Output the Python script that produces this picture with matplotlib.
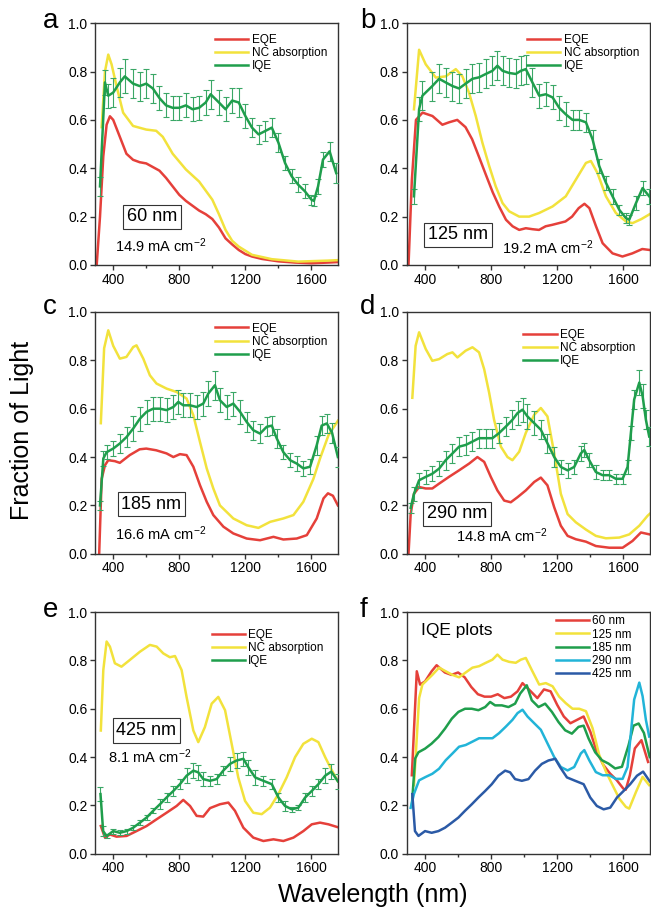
"""Six-panel EQE / NC absorption / IQE figure for NC films of different thickness."""
import matplotlib
matplotlib.use("Agg")
import matplotlib.pyplot as plt
from matplotlib.ticker import MultipleLocator, FormatStrFormatter

plt.rcParams["font.family"] = ["Liberation Sans", "DejaVu Sans"]
plt.rcParams["mathtext.default"] = "regular"

RED, YELLOW, GREEN = "#e5403a", "#f2e23c", "#1f9e4c"
CYAN, BLUE = "#22b4d8", "#2b5aa6"
ERR_GREEN = "#3aa766"

# ---- panel a: 60 nm ----
A_EQE_WL = [300, 320, 340, 360, 380, 400, 440, 480, 520, 560, 600, 640, 680, 720, 760, 800,
            840, 880, 920, 960, 1000, 1040, 1080, 1120, 1160, 1200, 1240, 1300, 1400, 1500,
            1600, 1700, 1760]
A_EQE = [0.0, 0.2, 0.45, 0.58, 0.615, 0.6, 0.53, 0.46, 0.435, 0.425, 0.42, 0.405, 0.39, 0.36,
         0.325, 0.29, 0.265, 0.245, 0.225, 0.21, 0.19, 0.155, 0.11, 0.085, 0.062, 0.045, 0.035,
         0.025, 0.015, 0.01, 0.007, 0.01, 0.012]
A_NC_WL = [330, 350, 370, 390, 420, 460, 520, 600, 660, 700, 760, 840, 920, 1000, 1040, 1080,
           1120, 1160, 1240, 1360, 1520, 1700, 1760]
A_NC = [0.57, 0.8, 0.87, 0.83, 0.74, 0.63, 0.575, 0.56, 0.555, 0.53, 0.46, 0.395, 0.345, 0.27,
        0.21, 0.145, 0.1, 0.076, 0.042, 0.024, 0.014, 0.018, 0.02]
A_IQE_WL = [320, 350, 370, 400, 440, 470, 520, 560, 600, 640, 680, 720, 760, 800, 840, 880,
            920, 960, 990, 1040, 1080, 1120, 1160, 1200, 1240, 1280, 1320, 1360, 1400, 1440,
            1480, 1520, 1560, 1600, 1615, 1640, 1670, 1710, 1750]
A_IQE = [0.325, 0.755, 0.70, 0.713, 0.755, 0.78, 0.75, 0.74, 0.75, 0.73, 0.69, 0.66, 0.65,
         0.65, 0.66, 0.644, 0.65, 0.672, 0.706, 0.672, 0.644, 0.68, 0.672, 0.616, 0.568, 0.54,
         0.554, 0.568, 0.506, 0.422, 0.367, 0.332, 0.305, 0.27, 0.265, 0.325, 0.436, 0.47, 0.38]
A_ERR = [0.04, 0.05, 0.05, 0.06, 0.06, 0.07, 0.06, 0.06, 0.06, 0.06, 0.05, 0.05, 0.05, 0.05,
         0.05, 0.05, 0.05, 0.05, 0.06, 0.05, 0.05, 0.05, 0.06, 0.05, 0.04, 0.04, 0.04, 0.04,
         0.04, 0.03, 0.03, 0.03, 0.03, 0.02, 0.02, 0.03, 0.03, 0.04, 0.04]

# ---- panel b: 125 nm ----
B_EQE_WL = [300, 320, 345, 385, 445, 505, 545, 595, 645, 685, 725, 770, 810, 850, 890, 930,
            970, 1010, 1050, 1090, 1130, 1170, 1210, 1250, 1290, 1330, 1365, 1395, 1435, 1475,
            1535, 1595, 1655, 1715, 1760]
B_EQE = [0.0, 0.35, 0.6, 0.63, 0.616, 0.58, 0.59, 0.6, 0.57, 0.52, 0.45, 0.37, 0.30, 0.24,
         0.187, 0.16, 0.145, 0.152, 0.148, 0.145, 0.16, 0.166, 0.173, 0.18, 0.2, 0.235, 0.253,
         0.235, 0.16, 0.09, 0.048, 0.035, 0.048, 0.066, 0.062]
B_NC_WL = [333, 364, 404, 465, 525, 586, 626, 666, 707, 747, 788, 828, 869, 909, 970, 1030,
           1091, 1172, 1252, 1313, 1374, 1404, 1444, 1495, 1555, 1616, 1656, 1710, 1760]
B_NC = [0.644, 0.89, 0.83, 0.775, 0.78, 0.81, 0.78, 0.713, 0.616, 0.506, 0.41, 0.325, 0.256,
        0.222, 0.2, 0.2, 0.215, 0.242, 0.284, 0.353, 0.422, 0.43, 0.38, 0.284, 0.215, 0.18,
        0.173, 0.19, 0.21]
B_IQE_WL = [333, 364, 384, 444, 485, 525, 566, 606, 646, 687, 727, 768, 808, 838, 869, 909,
            949, 980, 1010, 1050, 1091, 1131, 1172, 1212, 1252, 1293, 1333, 1374, 1414, 1454,
            1495, 1535, 1576, 1616, 1636, 1677, 1717, 1757]
B_IQE = [0.284, 0.644, 0.70, 0.74, 0.77, 0.755, 0.74, 0.73, 0.75, 0.77, 0.776, 0.79, 0.803,
         0.824, 0.803, 0.794, 0.79, 0.803, 0.81, 0.755, 0.70, 0.706, 0.693, 0.65, 0.623, 0.6,
         0.6, 0.59, 0.52, 0.41, 0.34, 0.284, 0.228, 0.194, 0.187, 0.256, 0.318, 0.284]
B_ERR = [0.03, 0.05, 0.06, 0.06, 0.06, 0.06, 0.06, 0.06, 0.06, 0.06, 0.06, 0.06, 0.06, 0.06,
         0.06, 0.06, 0.06, 0.06, 0.06, 0.06, 0.05, 0.05, 0.05, 0.05, 0.05, 0.04, 0.04, 0.04,
         0.04, 0.03, 0.03, 0.03, 0.02, 0.02, 0.02, 0.03, 0.03, 0.03]

# ---- panel c: 185 nm ----
C_EQE_WL = [315, 330, 350, 370, 410, 440, 500, 560, 600, 660, 723, 764, 804, 844, 885, 925,
            966, 1006, 1067, 1127, 1208, 1289, 1370, 1430, 1511, 1572, 1632, 1673, 1700, 1730,
            1760]
C_EQE = [0.0, 0.31, 0.366, 0.387, 0.383, 0.376, 0.408, 0.432, 0.435, 0.428, 0.415, 0.40,
         0.412, 0.408, 0.36, 0.284, 0.215, 0.16, 0.112, 0.084, 0.063, 0.056, 0.07, 0.059,
         0.063, 0.077, 0.146, 0.229, 0.25, 0.24, 0.2]
C_NC_WL = [325, 345, 370, 400, 440, 480, 521, 541, 582, 622, 662, 723, 784, 844, 885, 925,
           966, 1006, 1046, 1127, 1208, 1279, 1350, 1430, 1491, 1551, 1612, 1652, 1703, 1760]
C_NC = [0.54, 0.85, 0.924, 0.86, 0.807, 0.814, 0.855, 0.862, 0.807, 0.738, 0.704, 0.683,
        0.669, 0.642, 0.573, 0.463, 0.353, 0.27, 0.20, 0.146, 0.118, 0.107, 0.132, 0.146,
        0.16, 0.215, 0.31, 0.394, 0.49, 0.55]
C_IQE_WL = [320, 340, 360, 400, 440, 481, 521, 562, 602, 642, 683, 723, 764, 794, 824, 865,
            905, 945, 976, 1016, 1046, 1087, 1127, 1168, 1208, 1248, 1289, 1329, 1360, 1390,
            1430, 1471, 1511, 1551, 1592, 1632, 1662, 1693, 1725, 1760]
C_IQE = [0.2, 0.394, 0.42, 0.435, 0.456, 0.483, 0.518, 0.559, 0.587, 0.60, 0.60, 0.594,
         0.607, 0.628, 0.614, 0.614, 0.607, 0.621, 0.663, 0.697, 0.635, 0.607, 0.621, 0.587,
         0.545, 0.511, 0.497, 0.525, 0.53, 0.477, 0.42, 0.387, 0.373, 0.353, 0.36, 0.449,
         0.53, 0.539, 0.5, 0.4]
C_ERR = [0.02, 0.03, 0.03, 0.03, 0.04, 0.04, 0.05, 0.05, 0.05, 0.05, 0.05, 0.05, 0.05, 0.05,
         0.05, 0.05, 0.05, 0.05, 0.05, 0.06, 0.05, 0.05, 0.05, 0.05, 0.04, 0.04, 0.04, 0.04,
         0.04, 0.04, 0.03, 0.03, 0.03, 0.03, 0.03, 0.04, 0.04, 0.04, 0.04, 0.04]

# ---- panel d: 290 nm ----
D_EQE_WL = [300, 313, 333, 364, 404, 444, 485, 545, 606, 667, 717, 758, 798, 838, 879, 919,
            960, 1010, 1061, 1101, 1141, 1182, 1222, 1263, 1313, 1374, 1434, 1515, 1596, 1656,
            1707, 1760]
D_EQE = [0.0, 0.164, 0.248, 0.276, 0.27, 0.27, 0.29, 0.318, 0.345, 0.373, 0.40, 0.38, 0.318,
         0.262, 0.22, 0.213, 0.234, 0.262, 0.297, 0.315, 0.283, 0.192, 0.116, 0.074, 0.06,
         0.05, 0.032, 0.025, 0.025, 0.053, 0.088, 0.08]
D_NC_WL = [323, 343, 364, 404, 444, 485, 535, 566, 596, 646, 687, 727, 758, 788, 818, 859,
           899, 929, 970, 1010, 1061, 1101, 1141, 1182, 1222, 1263, 1313, 1374, 1434, 1495,
           1576, 1636, 1697, 1747, 1760]
D_NC = [0.645, 0.86, 0.916, 0.847, 0.798, 0.805, 0.826, 0.833, 0.812, 0.84, 0.854, 0.833,
        0.763, 0.666, 0.554, 0.443, 0.40, 0.387, 0.422, 0.50, 0.575, 0.603, 0.568, 0.415,
        0.248, 0.164, 0.13, 0.10, 0.074, 0.064, 0.067, 0.08, 0.116, 0.157, 0.165]
D_IQE_WL = [313, 333, 364, 404, 444, 485, 525, 566, 606, 646, 687, 727, 768, 808, 848, 889,
            929, 960, 990, 1020, 1061, 1101, 1141, 1182, 1222, 1263, 1303, 1343, 1364, 1394,
            1434, 1475, 1515, 1555, 1596, 1626, 1646, 1666, 1697, 1717, 1737, 1757]
D_IQE = [0.19, 0.248, 0.304, 0.318, 0.331, 0.352, 0.387, 0.415, 0.443, 0.45, 0.464, 0.478,
         0.478, 0.478, 0.499, 0.526, 0.554, 0.582, 0.596, 0.568, 0.54, 0.513, 0.457, 0.40,
         0.359, 0.345, 0.359, 0.415, 0.429, 0.387, 0.338, 0.325, 0.325, 0.31, 0.31, 0.359,
         0.499, 0.638, 0.708, 0.652, 0.554, 0.485]
D_ERR = [0.02, 0.03, 0.03, 0.03, 0.03, 0.03, 0.04, 0.04, 0.04, 0.04, 0.04, 0.04, 0.04, 0.04,
         0.04, 0.04, 0.04, 0.05, 0.05, 0.05, 0.05, 0.04, 0.04, 0.04, 0.03, 0.03, 0.03, 0.03,
         0.03, 0.03, 0.03, 0.02, 0.02, 0.02, 0.02, 0.03, 0.03, 0.04, 0.05, 0.05, 0.04, 0.04]

# ---- panel e: 425 nm ----
E_EQE_WL = [325, 350, 380, 420, 481, 541, 602, 663, 723, 784, 824, 865, 905, 945, 986, 1046,
            1097, 1137, 1188, 1248, 1309, 1370, 1430, 1491, 1551, 1602, 1652, 1703, 1760]
E_EQE = [0.115, 0.067, 0.08, 0.071, 0.074, 0.094, 0.115, 0.143, 0.17, 0.198, 0.223, 0.198,
         0.157, 0.154, 0.189, 0.205, 0.212, 0.178, 0.108, 0.067, 0.053, 0.06, 0.053, 0.067,
         0.094, 0.122, 0.129, 0.122, 0.11]
E_NC_WL = [325, 340, 360, 380, 410, 450, 501, 562, 622, 663, 703, 743, 774, 814, 844, 885,
           915, 955, 996, 1036, 1077, 1117, 1157, 1198, 1248, 1299, 1349, 1400, 1450, 1501,
           1551, 1602, 1642, 1683, 1720, 1760]
E_NC = [0.51, 0.76, 0.878, 0.857, 0.788, 0.774, 0.802, 0.836, 0.864, 0.857, 0.829, 0.813,
        0.818, 0.76, 0.649, 0.51, 0.462, 0.524, 0.621, 0.649, 0.594, 0.455, 0.316, 0.219,
        0.17, 0.164, 0.191, 0.247, 0.316, 0.40, 0.455, 0.476, 0.462, 0.40, 0.35, 0.3]
E_IQE_WL = [323, 339, 360, 400, 440, 481, 521, 562, 602, 642, 683, 723, 764, 804, 844, 885,
            915, 945, 986, 1026, 1066, 1107, 1147, 1188, 1218, 1259, 1309, 1360, 1400, 1440,
            1481, 1521, 1562, 1602, 1642, 1683, 1720, 1760]
E_IQE = [0.247, 0.094, 0.074, 0.094, 0.087, 0.094, 0.108, 0.129, 0.15, 0.178, 0.205, 0.233,
         0.26, 0.288, 0.323, 0.344, 0.337, 0.309, 0.302, 0.309, 0.344, 0.372, 0.386, 0.393,
         0.358, 0.316, 0.302, 0.288, 0.233, 0.198, 0.184, 0.191, 0.233, 0.26, 0.288, 0.323,
         0.34, 0.3]
E_ERR = [0.03, 0.02, 0.01, 0.01, 0.01, 0.01, 0.01, 0.01, 0.01, 0.01, 0.02, 0.02, 0.02, 0.02,
         0.03, 0.03, 0.03, 0.03, 0.02, 0.02, 0.02, 0.03, 0.03, 0.03, 0.03, 0.03, 0.02, 0.02,
         0.02, 0.02, 0.01, 0.01, 0.02, 0.02, 0.02, 0.03, 0.03, 0.03]

THICKNESS = ["60 nm", "125 nm", "185 nm", "290 nm", "425 nm"]
CURRENT = ["14.9", "19.2", "16.6", "14.8", "8.1"]
F_COLORS = [RED, YELLOW, GREEN, CYAN, BLUE]

# label placement per panel: box centre (nm, frac), current text left/centre (nm, frac)
BOX_POS = [(636, 0.20), (600, 0.125), (630, 0.205), (594, 0.165), (600, 0.51)]
CUR_POS = [(412, 0.08), (867, 0.07), (412, 0.083), (588, 0.075), (370, 0.40)]
LEG_ANCHOR = [(1.0, 1.0), (1.0, 1.0), (1.0, 1.0), (0.985, 0.975), (0.985, 0.975)]

# axes rectangles in figure fractions (left, bottom, width, height)
COLS = [0.146, 0.625]
ROWS = [0.7085, 0.3908, 0.0607]
W, H = 0.373, 0.266


def style(ax):
    ax.set_xlim(290, 1760)
    ax.set_ylim(0, 1.0)
    ax.xaxis.set_major_locator(MultipleLocator(400))
    ax.xaxis.set_minor_locator(MultipleLocator(200))
    ax.yaxis.set_major_locator(MultipleLocator(0.2))
    ax.yaxis.set_major_formatter(FormatStrFormatter("%.1f"))
    ax.tick_params(which="major", direction="out", length=3.5, width=1.0,
                   labelsize=10, pad=2, color="#333333")
    ax.tick_params(which="minor", direction="out", length=2.5, width=1.0, color="#333333")
    for s in ax.spines.values():
        s.set_linewidth(1.0)
        s.set_color("#333333")


fig = plt.figure(figsize=(6.51, 9.09), dpi=100)

panels = [
    (A_EQE_WL, A_EQE, A_NC_WL, A_NC, A_IQE_WL, A_IQE, A_ERR),
    (B_EQE_WL, B_EQE, B_NC_WL, B_NC, B_IQE_WL, B_IQE, B_ERR),
    (C_EQE_WL, C_EQE, C_NC_WL, C_NC, C_IQE_WL, C_IQE, C_ERR),
    (D_EQE_WL, D_EQE, D_NC_WL, D_NC, D_IQE_WL, D_IQE, D_ERR),
    (E_EQE_WL, E_EQE, E_NC_WL, E_NC, E_IQE_WL, E_IQE, E_ERR),
]
letters = "abcdef"

for i, (ewl, eqe, nwl, nc, iwl, iqe, err) in enumerate(panels):
    ax = fig.add_axes([COLS[i % 2], ROWS[i // 2], W, H])
    ax.plot(ewl, eqe, color=RED, lw=1.8, label="EQE")
    ax.plot(nwl, nc, color=YELLOW, lw=1.8, label="NC absorption")
    ax.errorbar(iwl, iqe, yerr=err, fmt="none", ecolor=ERR_GREEN, elinewidth=0.8,
                capsize=2.2, capthick=0.8, zorder=3)
    ax.plot(iwl, iqe, color=GREEN, lw=1.8, label="IQE", zorder=4)
    style(ax)
    ax.legend(loc="upper right", bbox_to_anchor=LEG_ANCHOR[i], frameon=False, fontsize=8.5,
              handlelength=2.8, handletextpad=0.3, labelspacing=0.1, borderaxespad=0.5)
    bx, by = BOX_POS[i]
    ax.text(bx, by, THICKNESS[i], fontsize=13, ha="center", va="center",
            bbox=dict(boxstyle="square,pad=0.2", fc="white", ec="#333333", lw=0.8))
    cx, cy = CUR_POS[i]
    ax.text(cx, cy, CURRENT[i] + " mA cm$^{-2}$", fontsize=10.5, ha="left", va="center")

# panel f: the five IQE curves together
axf = fig.add_axes([COLS[1], ROWS[2], W, H])
for (ewl, eqe, nwl, nc, iwl, iqe, err), lab, col in zip(panels, THICKNESS, F_COLORS):
    axf.plot(iwl, iqe, color=col, lw=1.8, label=lab)
style(axf)
axf.legend(loc="upper right", bbox_to_anchor=(0.97, 1.03), frameon=False, fontsize=8.5,
           handlelength=2.8, handletextpad=0.3, labelspacing=0.1, borderaxespad=0.5)
axf.text(376, 0.925, "IQE plots", fontsize=12.5, ha="left", va="center")

# panel letters
LETTER_POS = [(0.066, 0.969), (0.553, 0.969), (0.066, 0.655), (0.553, 0.655),
              (0.066, 0.321), (0.553, 0.321)]
for letter, (lx, ly) in zip(letters, LETTER_POS):
    fig.text(lx, ly, letter, fontsize=20, ha="left", va="baseline")

fig.text(0.034, 0.526, "Fraction of Light", fontsize=18, rotation=90,
         ha="center", va="center")
fig.text(0.573, 0.008, "Wavelength (nm)", fontsize=18, ha="center", va="baseline")

fig.savefig("out.png", dpi=100)
